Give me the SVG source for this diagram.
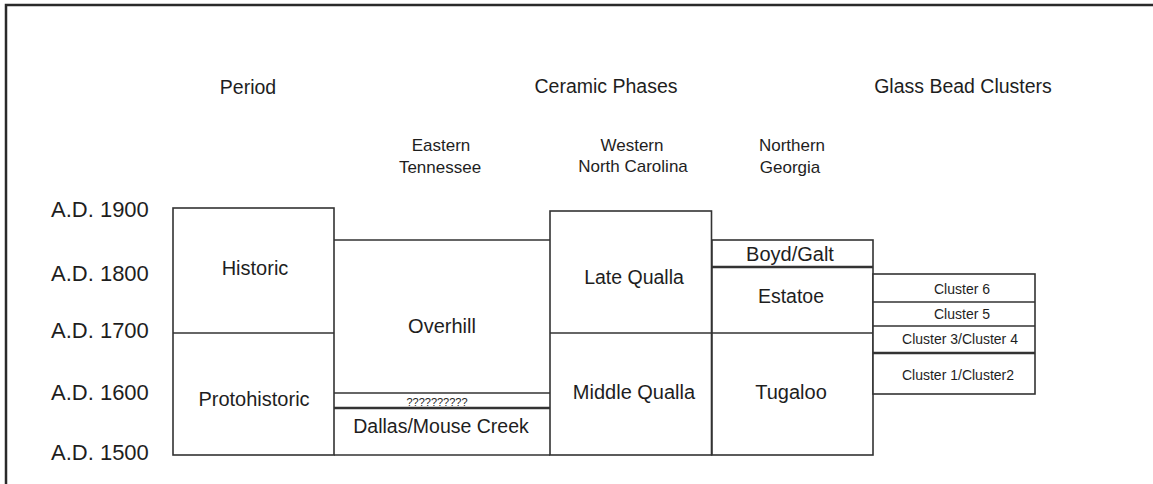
<svg xmlns="http://www.w3.org/2000/svg" width="1153" height="484" viewBox="0 0 1153 484">
<style>
text{font-family:"Liberation Sans",Arial,sans-serif;fill:#1e1e1e;text-anchor:middle}
.hd{font-size:19.5px}
.sub{font-size:17px}
.ax{font-size:22px;text-anchor:start}
.lb{font-size:20px}
.cl{font-size:14px}
.q{font-size:11px}
.box{fill:#fff;stroke:#333;stroke-width:1.6}
.ln{stroke:#333;stroke-width:1.6;fill:none}
.thk{stroke:#333;stroke-width:2.4;fill:none}
</style>
<rect width="1153" height="484" fill="#fff"/>
<path d="M6,484 V5 H1153" fill="none" stroke="#2a2a2a" stroke-width="2.5"/>
<g id="headers">
<text class="hd" x="248" y="94">Period</text>
<text class="hd" x="606" y="93">Ceramic Phases</text>
<text class="hd" x="963" y="93">Glass Bead Clusters</text>
<text class="sub" x="441" y="151">Eastern</text>
<text class="sub" x="440" y="173">Tennessee</text>
<text class="sub" x="632" y="151">Western</text>
<text class="sub" x="633" y="172">North Carolina</text>
<text class="sub" x="792" y="151">Northern</text>
<text class="sub" x="790" y="173">Georgia</text>
</g>
<g id="axis">
<text class="ax" x="51" y="217">A.D. 1900</text>
<text class="ax" x="51" y="281">A.D. 1800</text>
<text class="ax" x="51" y="338">A.D. 1700</text>
<text class="ax" x="51" y="400">A.D. 1600</text>
<text class="ax" x="51" y="460">A.D. 1500</text>
</g>
<g id="period">
<rect class="box" x="173" y="208" width="161" height="247"/>
<line class="ln" x1="173" y1="333" x2="334" y2="333"/>
<text class="lb" x="255" y="275">Historic</text>
<text class="lb" x="254" y="406">Protohistoric</text>
</g>
<g id="eastern-tennessee">
<path class="ln" d="M334,240 H550 M334,455 H550"/>
<line class="ln" x1="334" y1="393" x2="550" y2="393"/>
<line class="thk" x1="334" y1="408" x2="550" y2="408"/>
<text class="lb" x="442" y="333">Overhill</text>
<text class="q" x="437" y="406">??????????</text>
<text class="lb" x="441" y="433" style="font-size:19.5px">Dallas/Mouse Creek</text>
</g>
<g id="western-north-carolina">
<rect class="box" x="550" y="211" width="161.5" height="244"/>
<line class="ln" x1="550" y1="333" x2="711.5" y2="333"/>
<text class="lb" x="634" y="284" style="font-size:19.5px">Late Qualla</text>
<text class="lb" x="634" y="399">Middle Qualla</text>
</g>
<g id="northern-georgia">
<rect class="box" x="712" y="240" width="161" height="215"/>
<line class="thk" x1="712" y1="267" x2="873" y2="267"/>
<line class="ln" x1="712" y1="333" x2="873" y2="333"/>
<text class="lb" x="790" y="261">Boyd/Galt</text>
<text class="lb" x="791" y="303" style="font-size:19.5px">Estatoe</text>
<text class="lb" x="791" y="399">Tugaloo</text>
</g>
<g id="glass-bead-clusters">
<rect class="box" x="873" y="274" width="162" height="120"/>
<line class="ln" x1="873" y1="302" x2="1035" y2="302"/>
<line class="ln" x1="873" y1="326" x2="1035" y2="326"/>
<line class="thk" x1="873" y1="353" x2="1035" y2="353"/>
<text class="cl" x="962" y="294">Cluster 6</text>
<text class="cl" x="962" y="319">Cluster 5</text>
<text class="cl" x="960" y="344">Cluster 3/Cluster 4</text>
<text class="cl" x="958" y="380">Cluster 1/Cluster2</text>
</g>
<g id="connectors"/>
</svg>
